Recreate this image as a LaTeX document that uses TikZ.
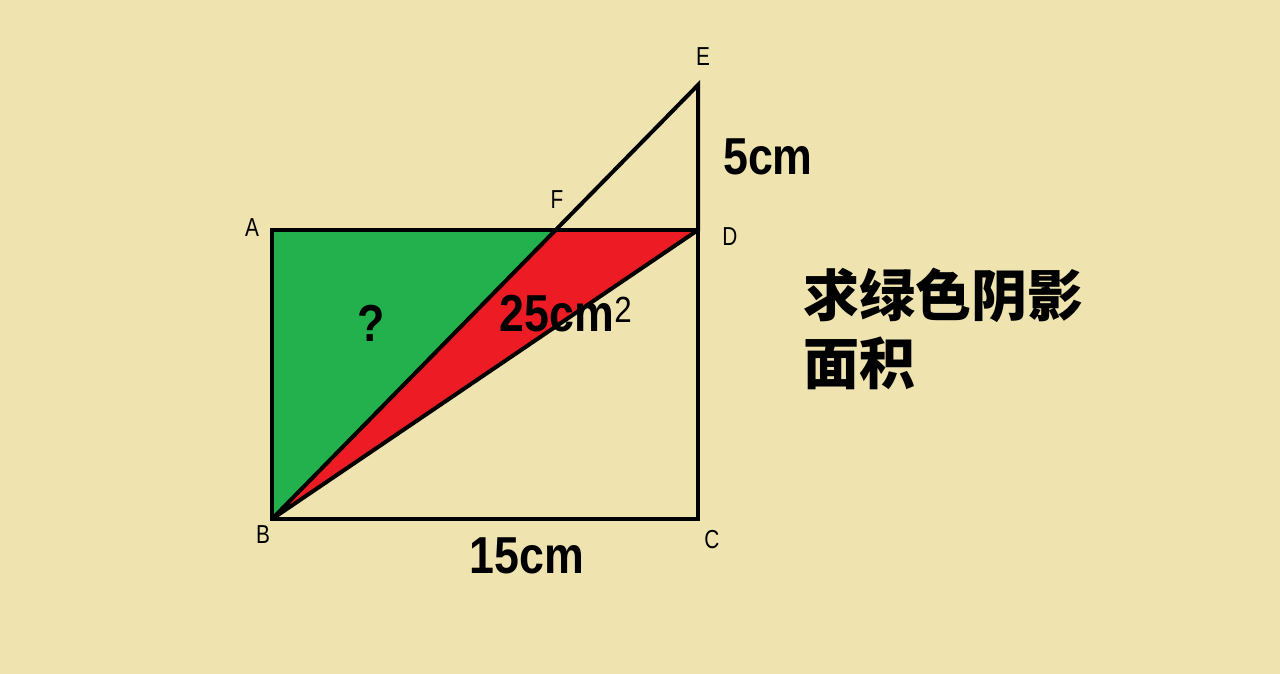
\documentclass[tikz,border=0pt]{standalone}
\usepackage{fontspec}
\setmainfont{Liberation Sans}
\newfontfamily\cjk{Noto Sans CJK SC}
\usepackage{tikz}
\usetikzlibrary{calc,intersections,positioning}
\definecolor{paper}{HTML}{EFE4B0}
\definecolor{shadegreen}{HTML}{22B14C}
\definecolor{shadered}{HTML}{ED1C24}
\newcommand{\narrowtext}[2]{\scalebox{#1}[1]{#2}}

\begin{document}
\begin{tikzpicture}[x=1pt, y=-1pt, line width=4pt, line join=miter,
    vlabel/.style={font=\fontsize{26}{26}\selectfont, inner sep=0pt},
    size/.style={font=\fontsize{52}{52}\selectfont\bfseries, inner sep=0pt},
    note/.style={font=\fontsize{56}{68}\selectfont\cjk\bfseries, align=left, inner sep=0pt}]

            \fill[paper] (0,0) rectangle (1280,674);
            \useasboundingbox (0,0) rectangle (1280,674);

            \foreach \p/ \x/ \y in {A/272/230, B/272/519, C/698/519, D/698/230, E/698/85}{
                \coordinate (\p) at (\x,\y);
            }
            \coordinate (F) at ($(B)!{289/434}!(E)$);

            \fill[shadegreen] (A) -- (B) -- (F) -- cycle;
            \fill[shadered] (F) -- (B) -- (D) -- cycle;

            \draw (A) -- (B) -- (C) -- (D) -- cycle;
            \draw (B) -- (E) -- (D) -- (B);

            \foreach \p/ \x/ \y in {A/252/228, B/263/535, C/712/540, D/730/237, E/703/57, F/557/200}{
                \node[vlabel] (l\p) at (\x,\y) {\narrowtext{0.8}{\p}};
            }

            \node[size] (ask) at (371,323) {\narrowtext{0.86}{?}};
            \node[size] (part) at (566,314) {\narrowtext{0.86}{25cm\textsuperscript{\mdseries 2}}};
            \node[size] (ed) at (768,157) {\narrowtext{0.86}{5cm}};
            \node[size] (bc) at (527,556) {\narrowtext{0.86}{15cm}};

            \node[note, anchor=west] (task) at (801,329) {求绿色阴影\\面积};

    \end{tikzpicture}
\end{document}
